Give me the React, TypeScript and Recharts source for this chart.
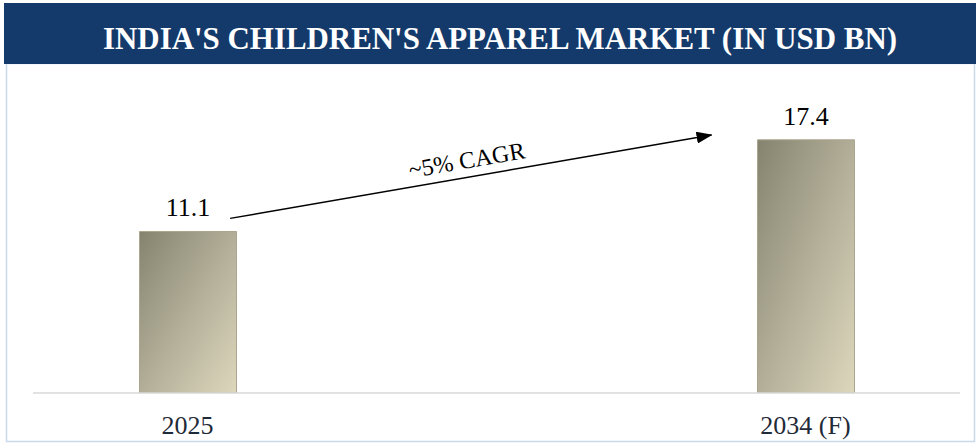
import React from "react";
import { BarChart, Bar, XAxis, YAxis, LabelList, ReferenceLine, ReferenceDot } from "recharts";

const categories = ["2025", "2034 (F)"];
const values = [11.1, 17.4];
const positions = [0, 1];
const title = "INDIA'S CHILDREN'S APPAREL MARKET (IN USD BN)";
const cagrLabel = "~5% CAGR";
// arrow annotation in data units
const arrowStart = { x: 0.069, y: 12.0 };
const arrowEnd = { x: 0.848, y: 17.73 };
const cagrAnchor = { x: 0.452, y: 16.0 };

const data = positions.map((x, i) => ({ x, name: categories[i], value: values[i] }));

const SERIF = "'Liberation Serif', 'DejaVu Serif', serif";

const ArrowShape = (props: any) => {
  const { x1, y1, x2, y2 } = props;
  return (
    <line x1={x1} y1={y1} x2={x2} y2={y2} stroke="#000" strokeWidth={1.4} markerEnd="url(#arrowHead)" />
  );
};

const CagrText = (props: any) => {
  const { cx, cy } = props;
  return (
    <text
      x={cx}
      y={cy}
      transform={`rotate(-9.8 ${cx} ${cy})`}
      textAnchor="middle"
      dominantBaseline="central"
      fontFamily={SERIF}
      fontSize={24}
      fill="#000"
    >
      {cagrLabel}
    </text>
  );
};

export default function App() {
  return (
    <div style={{ position: "absolute", left: 0, top: 0, width: 976, height: 444, background: "#fff" }}>
      <svg width={976} height={444} style={{ position: "absolute", left: 0, top: 0 }}>
        <rect x={6.5} y={63.5} width={968} height={378} fill="#fff" stroke="#c9d8ec" strokeWidth={1.5} />
        <rect x={4} y={3} width={972} height={61} fill="#143a6b" />
        <text
          x={500}
          y={49}
          textAnchor="middle"
          fontFamily={SERIF}
          fontWeight="bold"
          fontSize={32}
          fill="#fff"
          textLength={794}
          lengthAdjust="spacingAndGlyphs"
        >
          {title}
        </text>
      </svg>
      <div style={{ position: "absolute", left: 0, top: 0 }}>
        <BarChart width={976} height={444} data={data} margin={{ top: 102, right: 16, bottom: 0, left: 33 }}>
          <defs>
            <linearGradient id="barGrad" x1="0" y1="0" x2="1" y2="1">
              <stop offset="0%" stopColor="#85836f" />
              <stop offset="50%" stopColor="#b2ae98" />
              <stop offset="100%" stopColor="#ddd7bc" />
            </linearGradient>
            <marker
              id="arrowHead"
              markerWidth={16}
              markerHeight={12}
              refX={15}
              refY={6}
              orient="auto"
              markerUnits="userSpaceOnUse"
            >
              <path d="M0,0 L16,6 L0,12 Z" fill="#000" />
            </marker>
          </defs>
          <XAxis
            type="number"
            dataKey="x"
            domain={[-0.25, 1.25]}
            ticks={positions}
            tickFormatter={(v: number) => categories[v] ?? ""}
            height={51}
            axisLine={{ stroke: "#d9d9d9", strokeWidth: 1.5 }}
            tickLine={false}
            tickSize={0}
            tickMargin={23}
            tick={{ fill: "#1f2a38", fontSize: 26, fontFamily: SERIF }}
            allowDataOverflow
          />
          <YAxis hide domain={[0, 20]} allowDataOverflow />
          <Bar dataKey="value" barSize={97} fill="url(#barGrad)" stroke="#aaa58c" strokeWidth={1} isAnimationActive={false}>
            <LabelList dataKey="value" position="top" offset={15} fill="#000" fontSize={26} fontFamily={SERIF} />
          </Bar>
          <ReferenceLine segment={[arrowStart, arrowEnd]} shape={ArrowShape} ifOverflow="visible" />
          <ReferenceDot x={cagrAnchor.x} y={cagrAnchor.y} r={0} shape={CagrText} ifOverflow="visible" />
        </BarChart>
      </div>
    </div>
  );
}
